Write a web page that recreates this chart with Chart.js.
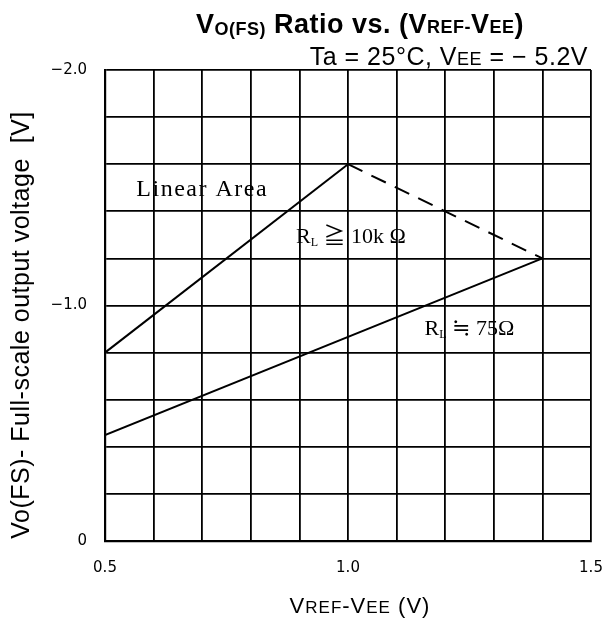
<!DOCTYPE html>
<html>
<head>
<meta charset="utf-8">
<script src="https://cdn.jsdelivr.net/npm/chart.js@4"></script>
<style>
body { margin: 0; background: #fff; }
#wrap { width: 605px; height: 621px; position: relative; }
</style>
</head>
<body>
<div id="wrap"><canvas id="chart"></canvas></div>
<script>
// values
var linearX = [0.5, 1.0];
var linearY = [-0.8, -1.6];
var load75X = [0.5, 1.4];
var load75Y = [-0.45, -1.2];
var limitX = [1.0, 1.4];
var limitY = [-1.6, -1.2];
var xTickLabels = [0.5, 1.0, 1.5];
var yTickLabels = [-2.0, -1.0, 0];

// where the notes sit, in data units
var notes = [
  { runs: [['Linear Area', 24]], x: 0.70, y: -1.50, spacing: '1.5px' },
  { runs: [['R', 22], ['L', 12, 3], [' \u2267 10k \u03A9', 22]], x: 1.006, y: -1.30 },
  { runs: [['R', 22], ['L', 12, 3], [' \u2252 75\u03A9', 22]], x: 1.25, y: -0.91 }
];

function pts(xs, ys) {
  return xs.map(function (x, i) { return { x: x, y: ys[i] }; });
}

function hasTick(list, v) {
  return list.some(function (t) { return Math.abs(t - v) < 1e-6; });
}

// draws text made of runs [text, size, drop] on one baseline
function drawRuns(ctx, runs, x, y, align, family, weight) {
  var total = 0;
  runs.forEach(function (r) {
    ctx.font = (weight || '') + ' ' + r[1] + 'px ' + family;
    total += ctx.measureText(r[0]).width;
  });
  var cx = align == 'center' ? x - total / 2 : (align == 'right' ? x - total : x);
  ctx.textAlign = 'left';
  ctx.textBaseline = 'alphabetic';
  runs.forEach(function (r) {
    ctx.font = (weight || '') + ' ' + r[1] + 'px ' + family;
    ctx.fillText(r[0], cx, y + (r[2] || 0));
    cx += ctx.measureText(r[0]).width;
  });
}

var textPlugin = {
  id: 'texts',
  afterDraw: function (chart) {
    var ctx = chart.ctx;
    var xs = chart.scales.x, ys = chart.scales.y;
    var sans = '"Liberation Sans", Arial, sans-serif';
    ctx.save();
    ctx.fillStyle = '#000';

    ctx.letterSpacing = '0.5px';
    drawRuns(ctx, [['V', 27], ['O(FS)', 18, 2], [' Ratio vs. (V', 27], ['REF', 18], ['-', 18], ['V', 27], ['EE', 18], [')', 27]],
      360, 33, 'center', sans, 'bold');
    ctx.letterSpacing = '0.5px';
    drawRuns(ctx, [['Ta = 25\u00B0C, V', 25], ['EE', 18], [' = \u2212 5.2V', 25]], 588, 65, 'right', sans);
    ctx.letterSpacing = '1px';
    drawRuns(ctx, [['V', 22], ['REF', 17], ['-V', 22], ['EE', 17], [' (V)', 22]], 360, 613, 'center', sans);

    ctx.save();
    ctx.translate(29, 325);
    ctx.rotate(-Math.PI / 2);
    ctx.letterSpacing = '0.5px';
    drawRuns(ctx, [['Vo(FS)- Full-scale output voltage  [V]', 25]], 0, 0, 'center', sans);
    ctx.restore();

    notes.forEach(function (n) {
      ctx.letterSpacing = n.spacing || '0px';
      drawRuns(ctx, n.runs, xs.getPixelForValue(n.x), ys.getPixelForValue(n.y) + 8, 'center',
        '"Liberation Serif", "DejaVu Serif", "Noto Sans CJK JP", serif');
    });
    ctx.restore();
  }
};

new Chart(document.getElementById('chart'), {
  type: 'scatter',
  data: {
    datasets: [
      { data: pts(linearX, linearY), showLine: true, borderColor: '#000', borderWidth: 2, pointRadius: 0 },
      { data: pts(load75X, load75Y), showLine: true, borderColor: '#000', borderWidth: 2, pointRadius: 0 },
      { data: pts(limitX, limitY), showLine: true, borderColor: '#000', borderWidth: 2, borderDash: [16, 10], pointRadius: 0 }
    ]
  },
  options: {
    responsive: true,
    maintainAspectRatio: false,
    animation: false,
    layout: { padding: { top: 70, right: 14, left: 0, bottom: 0 } },
    plugins: { legend: { display: false }, tooltip: { enabled: false }, title: { display: false } },
    scales: {
      x: {
        type: 'linear', min: 0.5, max: 1.5,
        afterFit: function (s) { s.height = 80; s.paddingLeft = 0; s.paddingRight = 0; },
        grid: { color: '#000', lineWidth: 1.8, drawTicks: false },
        border: { color: '#000', width: 2.2 },
        ticks: {
          stepSize: 0.1, autoSkip: false, maxRotation: 0, padding: 18, color: '#000',
          font: { family: '"DejaVu Sans", sans-serif', size: 15 },
          callback: function (v) { return hasTick(xTickLabels, v) ? v.toFixed(1) : ''; }
        }
      },
      y: {
        type: 'linear', min: -2, max: 0, reverse: true,
        afterFit: function (s) { s.width = 105; s.paddingTop = 0; s.paddingBottom = 0; },
        grid: { color: '#000', lineWidth: 1.8, drawTicks: false },
        border: { color: '#000', width: 2.2 },
        ticks: {
          stepSize: 0.2, autoSkip: false, padding: 18, color: '#000',
          font: { family: '"DejaVu Sans", sans-serif', size: 15 },
          callback: function (v) {
            if (!hasTick(yTickLabels, v)) return '';
            return Math.abs(v) < 1e-6 ? '0' : '\u2212' + Math.abs(v).toFixed(1);
          }
        }
      }
    }
  },
  plugins: [textPlugin]
});
</script>
</body>
</html>
